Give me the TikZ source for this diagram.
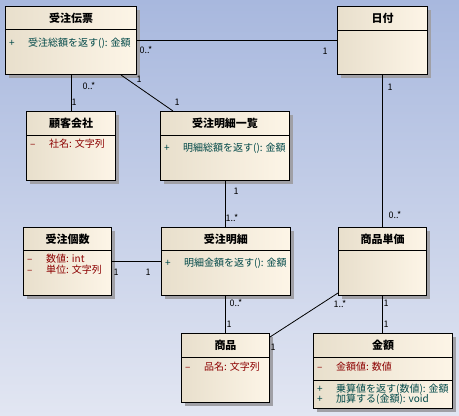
\documentclass[tikz,border=0pt]{standalone}
\usepackage{fontspec}
\setmainfont{Noto Sans CJK JP}
\usetikzlibrary{shadows}
\definecolor{bgtop}{RGB}{168,184,222}
\definecolor{bgbot}{RGB}{226,230,242}
\definecolor{boxl}{RGB}{232,223,204}
\definecolor{boxr}{RGB}{253,245,231}
\definecolor{attrred}{RGB}{140,0,0}
\definecolor{opteal}{RGB}{0,72,72}
\definecolor{boxshadow}{RGB}{160,160,166}
\tikzset{
  cls/.style={draw, line width=1pt, left color=boxl, right color=boxr, anchor=north west,
    inner sep=0pt, drop shadow={shadow xshift=3pt, shadow yshift=-3pt, fill=boxshadow, opacity=1}},
  clsname/.style={inner sep=0pt, font=\bfseries\fontsize{11}{13}\selectfont},
  attr/.style={anchor=west, inner sep=0pt, text=attrred, font=\fontsize{10}{12}\selectfont},
  oper/.style={attr, text=opteal},
  mult/.style={inner sep=0pt, font=\fontsize{9}{11}\selectfont},
  assoc/.style={line width=0.8pt},
}
\newcommand\vis[1]{\makebox[19pt][l]{#1}}
\begin{document}
\begin{tikzpicture}[x=1pt,y=-1pt]
    \shade[top color=bgtop, bottom color=bgbot] (0,0) rectangle (459,416);
    \useasboundingbox (0,0) rectangle (459,416);
    % classes
    \node[cls, minimum width=131, minimum height=68] (dempyo) at (5,6) {};
    \node[cls, minimum width=90, minimum height=68] (hizuke) at (337,6) {};
    \node[cls, minimum width=89, minimum height=69] (kokyaku) at (26,111) {};
    \node[cls, minimum width=129, minimum height=69] (ichiran) at (160,111) {};
    \node[cls, minimum width=88, minimum height=68] (kosu) at (23,227) {};
    \node[cls, minimum width=129, minimum height=68] (meisai) at (161,227) {};
    \node[cls, minimum width=88, minimum height=68] (tanka) at (338,227) {};
    \node[cls, minimum width=88, minimum height=69] (shohin) at (181,333) {};
    \node[cls, minimum width=139, minimum height=75] (kingaku) at (313,333) {};
    \foreach \c/\h in {dempyo/23,hizuke/24,kokyaku/24,ichiran/24,kosu/23,meisai/23,tanka/23,shohin/24,kingaku/24}
        \draw[line width=1pt] ([yshift=-\h pt]\c.north west) -- ([yshift=-\h pt]\c.north east);
    \draw[line width=1pt] ([yshift=-47pt]kingaku.north west) -- ([yshift=-47pt]kingaku.north east);
    \node[clsname] (dempyo-n) at ([yshift=-12pt]dempyo.north) {受注伝票};
    \node[clsname] (hizuke-n) at ([yshift=-12pt]hizuke.north) {日付};
    \node[clsname] (kokyaku-n) at ([yshift=-12pt]kokyaku.north) {顧客会社};
    \node[clsname] (ichiran-n) at ([yshift=-12pt]ichiran.north) {受注明細一覧};
    \node[clsname] (kosu-n) at ([yshift=-12pt]kosu.north) {受注個数};
    \node[clsname] (meisai-n) at ([yshift=-12pt]meisai.north) {受注明細};
    \node[clsname] (tanka-n) at ([yshift=-12pt]tanka.north) {商品単価};
    \node[clsname] (shohin-n) at ([yshift=-12pt]shohin.north) {商品};
    \node[clsname] (kingaku-n) at ([yshift=-12pt]kingaku.north) {金額};
    % members
    \node[oper] (dempyo-o1) at ([xshift=4pt,yshift=-37pt]dempyo.north west) {\vis{+}受注総額を返す(): 金額};
    \node[attr] (kokyaku-a1) at ([xshift=4pt,yshift=-33pt]kokyaku.north west) {\vis{–}社名: 文字列};
    \node[oper] (ichiran-o1) at ([xshift=4pt,yshift=-37pt]ichiran.north west) {\vis{+}明細総額を返す(): 金額};
    \node[attr] (kosu-a1) at ([xshift=4pt,yshift=-32pt]kosu.north west) {\vis{–}数値: int};
    \node[attr] (kosu-a2) at ([xshift=4pt,yshift=-43pt]kosu.north west) {\vis{–}単位: 文字列};
    \node[oper] (meisai-o1) at ([xshift=4pt,yshift=-36pt]meisai.north west) {\vis{+}明細金額を返す(): 金額};
    \node[attr] (shohin-a1) at ([xshift=4pt,yshift=-34pt]shohin.north west) {\vis{–}品名: 文字列};
    \node[attr] (kingaku-a1) at ([xshift=4pt,yshift=-34pt]kingaku.north west) {\vis{–}金額値: 数値};
    \node[oper] (kingaku-o1) at ([xshift=4pt,yshift=-56pt]kingaku.north west) {\vis{+}乗算値を返す(数値): 金額};
    \node[oper] (kingaku-o2) at ([xshift=4pt,yshift=-66pt]kingaku.north west) {\vis{+}加算する(金額): void};
    % associations
    \draw[assoc] (dempyo.east) -- (dempyo.east -| hizuke.west);
    \draw[assoc] (kokyaku.north |- dempyo.south) -- (kokyaku.north);
    \draw[assoc] ([xshift=-16pt]dempyo.south east) -- ([xshift=13pt]ichiran.north west);
    \draw[assoc] (hizuke.south) -- (tanka.north);
    \draw[assoc] (ichiran.south) -- (ichiran.south |- meisai.north);
    \draw[assoc] (kosu.east) -- (kosu.east -| meisai.west);
    \draw[assoc] (shohin.north |- meisai.south) -- (shohin.north);
    \draw[assoc] (tanka.south) -- (tanka.south |- kingaku.north);
    \draw[assoc] ([yshift=3pt]tanka.south west) -- ([yshift=-4pt]shohin.north east);
    % multiplicities
    \node[mult] (m1a) at (146,50) {0..*};
    \node[mult] (m1b) at (325,51) {1};
    \node[mult] (m2a) at (89,86) {0..*};
    \node[mult] (m2b) at (74,102) {1};
    \node[mult] (m3a) at (139,79) {1};
    \node[mult] (m3b) at (177,102) {1};
    \node[mult] (m4a) at (390,87) {1};
    \node[mult] (m4b) at (395,215) {0..*};
    \node[mult] (m5a) at (236,191) {1};
    \node[mult] (m5b) at (232,218) {1..*};
    \node[mult] (m6a) at (116,272) {1};
    \node[mult] (m6b) at (148,272) {1};
    \node[mult] (m7a) at (236,303) {0..*};
    \node[mult] (m7b) at (229,324) {1};
    \node[mult] (m8a) at (386,303) {1};
    \node[mult] (m8b) at (386,324) {1};
    \node[mult] (m9a) at (340,304) {1..*};
    \node[mult] (m9b) at (273,347) {1};
\end{tikzpicture}
\end{document}
